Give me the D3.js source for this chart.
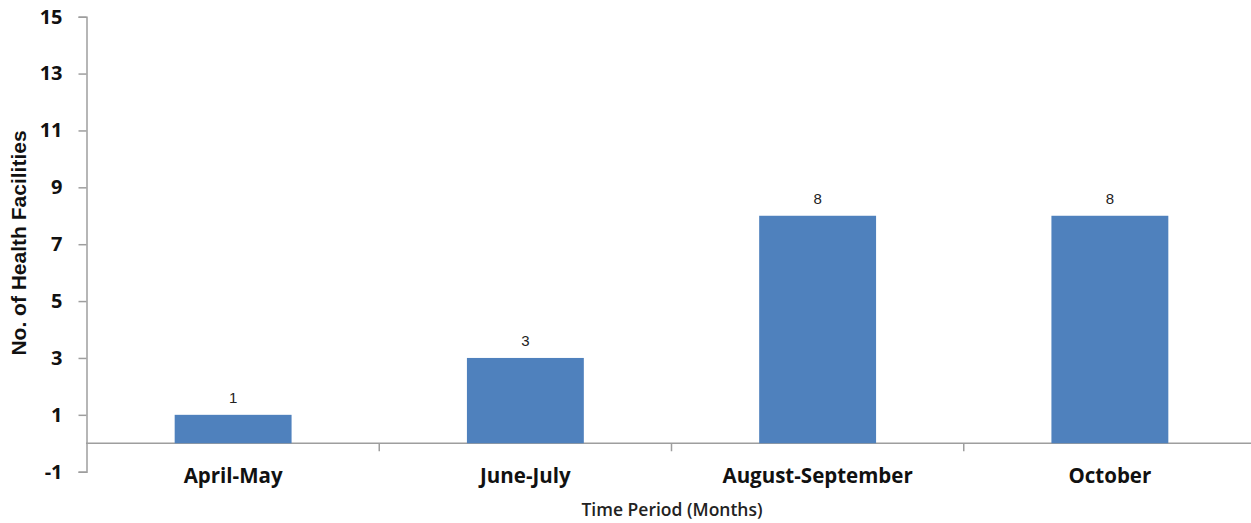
<!DOCTYPE html>
<html>
<head>
<meta charset="utf-8">
<script src="https://cdn.jsdelivr.net/npm/d3@7"></script>
<style>
  html, body { margin: 0; padding: 0; background: #fff; }
  svg { display: block; }
</style>
</head>
<body>
<svg id="chart" width="1251" height="523"></svg>
<script>
// Facilities counted per reporting period
const categories = ["April-May", "June-July", "August-September", "October"];
const facilities = [1, 3, 8, 8];
const yTicks = [-1, 1, 3, 5, 7, 9, 11, 13, 15];

const svg = d3.select("#chart");
const W = 1251, H = 523;
const axisColor = "#9e9e9e";
const barColor = "#4f81bd";
const labelFont = "'Open Sans', Lato, sans-serif";

const x = d3.scaleBand()
  .domain(categories)
  .range([87, 1256])
  .paddingInner(0.6)
  .paddingOuter(0.3);

const y = d3.scaleLinear()
  .domain([-1, 15])
  .range([471.7, 16.7]);

// Y axis (plain hyphen for negatives)
const yAxis = d3.axisLeft(y).tickValues(yTicks).tickSize(8).tickPadding(16).tickFormat(d => String(d));
const gy = svg.append("g").attr("transform", "translate(86.5,0)").call(yAxis);
gy.select(".domain").attr("stroke", axisColor).attr("stroke-width", 1.5);
gy.selectAll(".tick line").attr("stroke", axisColor).attr("stroke-width", 1.5);
gy.selectAll(".tick text")
  .attr("font-family", labelFont)
  .attr("font-weight", "bold")
  .attr("font-size", 20)
  .attr("fill", "#111");

// X axis along zero, category boundaries as ticks
const zeroY = y(0);
svg.append("line")
  .attr("x1", 86).attr("x2", W)
  .attr("y1", zeroY).attr("y2", zeroY)
  .attr("stroke", axisColor).attr("stroke-width", 1.5);
const step = x.step();
const bounds = categories.slice(1).map(c => x(c) - (step - x.bandwidth()) / 2);
svg.append("g").selectAll("line").data(bounds).join("line")
  .attr("x1", d => d).attr("x2", d => d)
  .attr("y1", zeroY).attr("y2", zeroY + 8)
  .attr("stroke", axisColor).attr("stroke-width", 1.5);

// Bars
svg.append("g").selectAll("rect").data(categories).join("rect")
  .attr("x", c => x(c))
  .attr("width", x.bandwidth())
  .attr("y", (c, i) => y(facilities[i]))
  .attr("height", (c, i) => y(0) - y(facilities[i]))
  .attr("fill", barColor);

// Value labels
svg.append("g").selectAll("text").data(categories).join("text")
  .attr("x", c => x(c) + x.bandwidth() / 2)
  .attr("y", (c, i) => y(facilities[i]) - 12)
  .attr("text-anchor", "middle")
  .attr("font-family", "'Liberation Sans', Arial, sans-serif")
  .attr("font-size", 15)
  .attr("fill", "#222")
  .text((c, i) => facilities[i]);

// Category labels
svg.append("g").selectAll("text").data(categories).join("text")
  .attr("x", c => x(c) + x.bandwidth() / 2)
  .attr("y", 483)
  .attr("text-anchor", "middle")
  .attr("font-family", labelFont)
  .attr("font-weight", "bold")
  .attr("font-size", 20.5)
  .attr("fill", "#111")
  .text(c => c);

// Axis titles
svg.append("text")
  .attr("x", 672).attr("y", 516)
  .attr("text-anchor", "middle")
  .attr("font-family", labelFont)
  .attr("font-weight", 600)
  .attr("font-size", 17.5)
  .attr("fill", "#222")
  .text("Time Period (Months)");

svg.append("text")
  .attr("transform", "translate(26,243) rotate(-90)")
  .attr("text-anchor", "middle")
  .attr("font-family", "'Liberation Sans', Arial, sans-serif")
  .attr("font-weight", "bold")
  .attr("font-size", 21)
  .attr("fill", "#111")
  .text("No. of Health Facilities");
</script>
</body>
</html>
